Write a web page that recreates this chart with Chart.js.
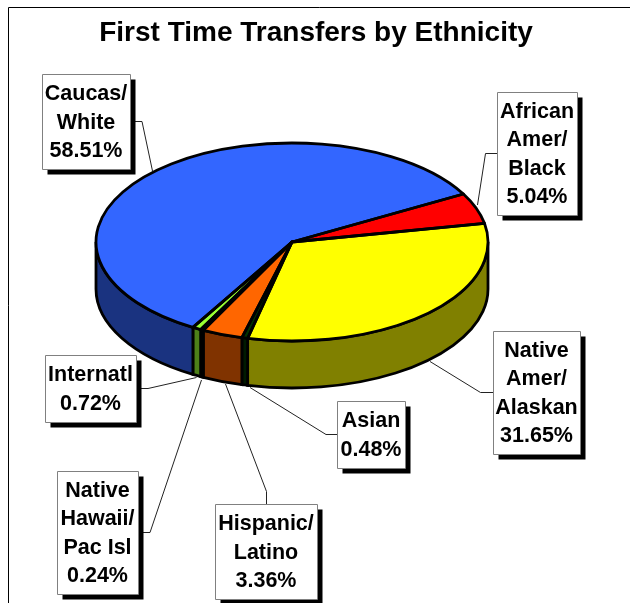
<!DOCTYPE html>
<html>
<head>
<meta charset="utf-8">
<title>First Time Transfers by Ethnicity</title>
<script src="https://cdn.jsdelivr.net/npm/chart.js@4/dist/chart.umd.min.js"></script>
<style>
html, body { margin: 0; padding: 0; background: #fff; overflow: hidden; }
canvas { display: block; }
</style>
</head>
<body>
<canvas id="chart" width="630" height="603"></canvas>
<script>
const title = 'First Time Transfers by Ethnicity';
const categories = [
    ['African', 'Amer/', 'Black'],
    ['Native', 'Amer/', 'Alaskan'],
    ['Asian'],
    ['Hispanic/', 'Latino'],
    ['Native', 'Hawaii/', 'Pac Isl'],
    ['Internatl'],
    ['Caucas/', 'White']
];
const values = [5.04, 31.65, 0.48, 3.36, 0.24, 0.72, 58.51];
const topColors = ['#FF0000', '#FFFF00', '#003300', '#FF6600', '#003366', '#99FF33', '#3366FF'];
const wallColors = ['#800000', '#808000', '#001A00', '#803300', '#001A33', '#4D8019', '#1A3380'];

// label boxes [left, top, right, bottom] and their leader lines, same order as categories
const boxes = [
    [497, 92, 577, 215],
    [493, 331, 580, 454],
    [337, 401, 405, 468],
    [215, 504, 317, 599],
    [57, 471, 138, 594],
    [45, 355, 136, 422],
    [42, 74, 130, 169]
];
const leaders = [
    [[497, 153.5], [485.5, 153.5], [477.5, 205]],
    [[493, 392.5], [480.5, 392.5], [430, 361.5]],
    [[337, 434.5], [326, 434.5], [250, 387.5]],
    [[266.5, 504], [266.5, 491.5], [225.5, 384]],
    [[138, 532.5], [150, 532.5], [201.5, 380]],
    [[136, 388.5], [148, 388.5], [196.5, 377.5]],
    [[130, 121.5], [142, 121.5], [152.5, 171]]
];

const squash = 99 / 196;
const depth = 47;
const shadow = 5.5;
const lineHeight = 28.4;

const pie3d = {
    id: 'pie3d',
    beforeDatasetsDraw(chart) {
        const ctx = chart.ctx;
        const arcs = chart.getDatasetMeta(0).data;
        const cx = arcs[0].x, cy = arcs[0].y, rx = arcs[0].outerRadius, ry = rx * squash;

        // frame, only top and left edges show in the original
        ctx.save();
        ctx.strokeStyle = '#000';
        ctx.lineWidth = 1;
        ctx.beginPath();
        ctx.moveTo(8.5, 603);
        ctx.lineTo(8.5, 7.5);
        ctx.lineTo(630, 7.5);
        ctx.stroke();

        ctx.fillStyle = '#000';
        ctx.font = 'bold 28px "Liberation Sans", Arial, sans-serif';
        ctx.textAlign = 'center';
        ctx.fillText(title, 316, 41);

        ctx.strokeStyle = '#222';
        leaders.forEach(pts => {
            ctx.beginPath();
            pts.forEach((p, i) => i ? ctx.lineTo(p[0], p[1]) : ctx.moveTo(p[0], p[1]));
            ctx.stroke();
        });

        // side wall, only the part of each slice facing front
        ctx.strokeStyle = '#000';
        ctx.lineWidth = 2.8;
        arcs.forEach((arc, i) => {
            const a0 = Math.max(arc.startAngle, 0);
            const a1 = Math.min(arc.endAngle, Math.PI);
            if (a1 <= a0) return;
            ctx.beginPath();
            ctx.ellipse(cx, cy, rx, ry, 0, a0, a1);
            ctx.ellipse(cx, cy + depth, rx, ry, 0, a1, a0, true);
            ctx.closePath();
            ctx.fillStyle = wallColors[i];
            ctx.fill();
            ctx.stroke();
        });
        ctx.restore();

        // library draws the top face squashed into an ellipse
        ctx.save();
        ctx.translate(cx, cy);
        ctx.scale(1, squash);
        ctx.translate(-cx, -cy);
    },
    afterDatasetsDraw(chart) {
        const ctx = chart.ctx;
        ctx.restore();

        const arcs = chart.getDatasetMeta(0).data;
        const cx = arcs[0].x, cy = arcs[0].y, rx = arcs[0].outerRadius, ry = rx * squash;

        ctx.save();
        ctx.strokeStyle = '#000';
        ctx.lineWidth = 2.8;
        ctx.lineJoin = 'round';
        arcs.forEach(arc => {
            ctx.beginPath();
            ctx.moveTo(cx, cy);
            ctx.ellipse(cx, cy, rx, ry, 0, arc.startAngle, arc.endAngle);
            ctx.closePath();
            ctx.stroke();
        });

        ctx.font = 'bold 21.5px "Liberation Sans", Arial, sans-serif';
        ctx.textAlign = 'center';
        boxes.forEach((b, i) => {
            const w = b[2] - b[0], h = b[3] - b[1];
            ctx.fillStyle = '#000';
            ctx.fillRect(b[0] + shadow, b[1] + shadow, w, h);
            ctx.fillStyle = '#fff';
            ctx.fillRect(b[0], b[1], w, h);
            ctx.strokeStyle = '#808080';
            ctx.lineWidth = 1;
            ctx.strokeRect(b[0] + 0.5, b[1] + 0.5, w, h);

            const lines = categories[i].concat(values[i].toFixed(2) + '%');
            const mid = (b[1] + b[3]) / 2;
            ctx.fillStyle = '#000';
            lines.forEach((line, j) => {
                const y = mid + (j - (lines.length - 1) / 2) * lineHeight + 7;
                ctx.fillText(line, (b[0] + b[2]) / 2, y);
            });
        });
        ctx.restore();
    }
};

new Chart(document.getElementById('chart'), {
    type: 'pie',
    data: {
        labels: categories.map(c => c.join(' ')),
        datasets: [{
            data: values,
            backgroundColor: topColors,
            borderWidth: 0,
            hoverOffset: 0,
            clip: false
        }]
    },
    options: {
        responsive: false,
        animation: false,
        rotation: 61,
        layout: { padding: { left: 96, right: 142, top: 46, bottom: 165 } },
        plugins: { legend: { display: false }, title: { display: false }, tooltip: { enabled: false } }
    },
    plugins: [pie3d]
});
</script>
</body>
</html>
